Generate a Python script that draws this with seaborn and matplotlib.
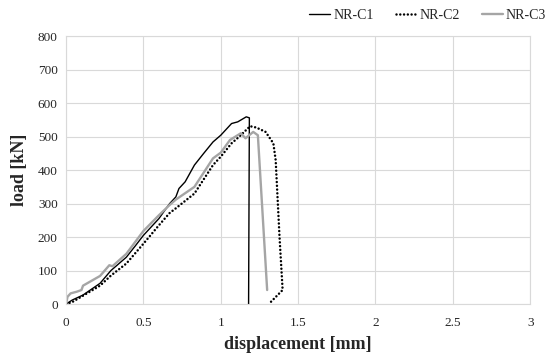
import pandas as pd
import matplotlib.pyplot as plt
import seaborn as sns
import numpy as np

# data
c1_x = [0, 0.04, 0.11, 0.22, 0.29, 0.39, 0.45, 0.5, 0.6, 0.67, 0.71, 0.73, 0.77, 0.83, 0.89, 0.95, 1.0, 1.07, 1.11, 1.165, 1.185, 1.18]
c1_y = [0, 12, 27, 62, 100, 140, 175, 205, 255, 300, 320, 345, 365, 415, 450, 484, 504, 539, 544, 559, 556, 0]

c2_x = [0, 0.04, 0.11, 0.22, 0.29, 0.39, 0.5, 0.6, 0.67, 0.71, 0.83, 0.95, 1.0, 1.07, 1.12, 1.19, 1.23, 1.29, 1.34, 1.355, 1.38, 1.40, 1.31]
c2_y = [0, 6, 25, 55, 85, 121, 180, 235, 272, 286, 330, 415, 440, 480, 500, 531, 527, 514, 480, 430, 200, 42, 0]

c3_x = [0, 0.01, 0.03, 0.07, 0.1, 0.11, 0.22, 0.28, 0.30, 0.39, 0.5, 0.6, 0.67, 0.71, 0.83, 0.95, 1.0, 1.06, 1.13, 1.16, 1.21, 1.24, 1.30]
c3_y = [0, 22, 32, 37, 42, 55, 84, 116, 113, 150, 218, 265, 296, 312, 350, 435, 452, 490, 510, 495, 514, 504, 42]

series = [("NR-C1", c1_x, c1_y), ("NR-C2", c2_x, c2_y), ("NR-C3", c3_x, c3_y)]
styles = {
    "NR-C1": dict(color="black", lw=1.0, ls="-"),
    "NR-C2": dict(color="black", lw=1.8, ls=(0, (0.01, 1.5)), dash_capstyle="round"),
    "NR-C3": dict(color="#a5a5a5", lw=1.7, ls="-"),
}

sns.set_style("white")
plt.rcParams['font.family'] = ['Liberation Serif', 'DejaVu Serif']

fig = plt.figure(figsize=(5.5, 3.54), dpi=100)
ax = fig.add_axes([0.12, 0.141, 0.844, 0.757])

for name, xs, ys in series:
    df = pd.DataFrame({"x": xs, "y": ys})
    sns.lineplot(data=df, x="x", y="y", sort=False, estimator=None, ax=ax,
                 label=name, **styles[name])

ax.set_xlim(0, 3)
ax.set_ylim(0, 800)
ax.set_xticks(np.arange(0, 3.01, 0.5))
ax.set_xticklabels(["0", "0.5", "1", "1.5", "2", "2.5", "3"])
ax.set_yticks(np.arange(0, 801, 100))
ax.grid(True, color="#d9d9d9", lw=0.8)
for s in ax.spines.values():
    s.set_color("#d9d9d9")
    s.set_linewidth(0.8)
ax.tick_params(axis="y", length=0, labelsize=9.5, pad=6, colors="#262626")
ax.tick_params(axis="x", length=0, labelsize=9.5, pad=9, colors="#262626")

ax.set_xlabel("displacement [mm]", fontsize=13, fontweight="bold", labelpad=5)
ax.set_ylabel("load [kN]", fontsize=13, fontweight="bold", labelpad=7)

ax.legend(loc="upper right", bbox_to_anchor=(1.015, 1.01), bbox_transform=fig.transFigure,
          ncol=3, frameon=False, fontsize=10, handlelength=1.5, handletextpad=0.2,
          columnspacing=1.6)

fig.savefig("out.png", dpi=100)
